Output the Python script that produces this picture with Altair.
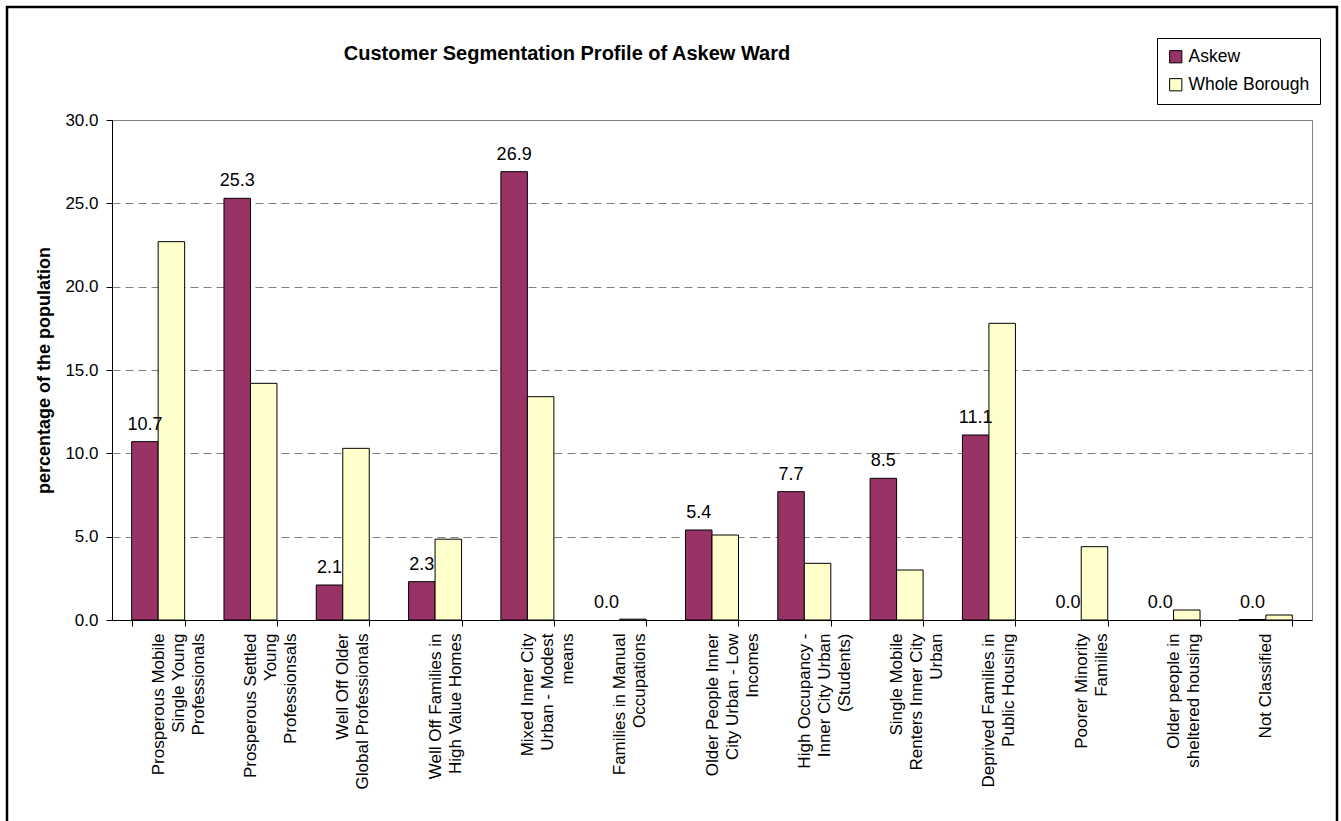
import altair as alt
import pandas as pd

title_text = "Customer Segmentation Profile of Askew Ward"
y_title = "percentage of the population"

categories = [
    "Prosperous Mobile|Single Young|Professionals",
    "Prosperous Settled|Young|Professionsals",
    "Well Off Older|Global Professionals",
    "Well Off Families in|High Value Homes",
    "Mixed Inner City|Urban - Modest|means",
    "Families in Manual|Occupations",
    "Older People Inner|City Urban - Low|Incomes",
    "High Occupancy -|Inner City Urban|(Students)",
    "Single Mobile|Renters Inner City|Urban",
    "Deprived Families in|Public Housing",
    "Poorer Minority|Families",
    "Older people in|sheltered housing",
    "Not Classified",
]
askew = [10.7, 25.3, 2.1, 2.3, 26.9, 0.0, 5.4, 7.7, 8.5, 11.1, 0.0, 0.0, 0.03]
borough = [22.7, 14.2, 10.3, 4.85, 13.4, 0.05, 5.1, 3.4, 3.0, 17.8, 4.4, 0.6, 0.3]
series = ["Askew", "Whole Borough"]
colors = ["#993366", "#FFFFCC"]
y_ticks = [0, 5, 10, 15, 20, 25, 30]

FONT = "Liberation Sans"

rows = []
for c, a, b in zip(categories, askew, borough):
    rows.append({"category": c, "series": series[0], "value": a})
    rows.append({"category": c, "series": series[1], "value": b})
df = pd.DataFrame(rows)

x_enc = alt.X(
    "category:N",
    sort=categories,
    scale=alt.Scale(paddingInner=0.426, paddingOuter=0.213),
    axis=alt.Axis(
        title=None,
        labelAngle=270,
        labelExpr="split(datum.label, '|')",
        labelFont=FONT,
        labelFontSize=17,
        labelLineHeight=20,
        labelPadding=7,
        labelColor="black",
        labelLimit=0,
        labelOverlap=False,
        tickSize=6,
        tickBand="extent",
        tickColor="black",
        domainColor="black",
        grid=False,
    ),
)
xoff_enc = alt.XOffset("series:N", sort=series, scale=alt.Scale(paddingInner=0, paddingOuter=0))
y_enc = alt.Y(
    "value:Q",
    scale=alt.Scale(domain=[0, 30], nice=False),
    axis=alt.Axis(
        values=y_ticks,
        format=".1f",
        title=y_title,
        titleFont=FONT,
        titleFontSize=18,
        titleFontWeight="bold",
        titleColor="black",
        titlePadding=11,
        labelFont=FONT,
        labelFontSize=17,
        labelColor="black",
        labelPadding=8,
        tickSize=6,
        tickColor="black",
        domainColor="black",
        grid=True,
        gridDash=[8, 5],
        gridColor="#808080",
        gridWidth=1,
    ),
)

bars = alt.Chart(df).mark_bar(stroke="black", strokeWidth=1).encode(
    x=x_enc,
    xOffset=xoff_enc,
    y=y_enc,
    strokeOpacity=alt.condition(alt.datum.value > 0, alt.value(1), alt.value(0)),
    color=alt.Color(
        "series:N",
        sort=series,
        scale=alt.Scale(domain=series, range=colors),
        legend=alt.Legend(
            title=None,
            orient="none",
            legendX=1045,
            legendY=-82,
            strokeColor="black",
            fillColor="white",
            padding=10,
            symbolType="square",
            symbolSize=150,
            symbolStrokeColor="black",
            symbolStrokeWidth=1,
            symbolOpacity=1,
            labelFont=FONT,
            labelFontSize=17.5,
            labelColor="black",
            labelOffset=4,
            rowPadding=9,
        ),
    ),
)

labels = alt.Chart(df).transform_filter(
    alt.datum.series == "Askew"
).mark_text(
    baseline="alphabetic", align="center", dy=-12, font=FONT, fontSize=18, color="black"
).encode(
    x=alt.X("category:N", sort=categories),
    xOffset=alt.XOffset("series:N", sort=series),
    y=alt.Y("value:Q"),
    text=alt.Text("value:Q", format=".1f"),
)

border = alt.Chart(alt.Data(values=[{"k": 1}])).mark_rect(
    fillOpacity=0, stroke="black", strokeWidth=2.5
).encode(
    x=alt.value(-105), x2=alt.value(1225), y=alt.value(-113), y2=alt.value(705)
)

title = alt.Chart(alt.Data(values=[{"k": 1}])).mark_text(
    font=FONT, fontSize=20, fontWeight="bold", align="center", baseline="alphabetic", color="black"
).encode(
    x=alt.value(455), y=alt.value(-60), text=alt.value(title_text)
)

chart = alt.layer(border, bars, labels, title).properties(
    width=1200,
    height=500,
    autosize=alt.AutoSizeParams(type="none"),
    padding={"left": 112, "top": 120, "right": 29, "bottom": 201},
    background="white",
).configure_view(stroke="#808080", strokeWidth=1)

chart.save("out.html", embed_options={"renderer": "svg", "actions": False})
